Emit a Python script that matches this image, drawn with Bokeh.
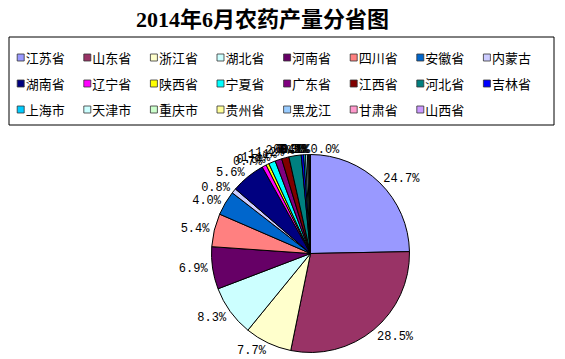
import math
from bokeh.plotting import figure
from bokeh.models import Range1d, ColumnDataSource
from bokeh.core.properties import value
from bokeh.embed import file_html
from bokeh.resources import INLINE

title_text = "2014年6月农药产量分省图"
provinces = ["江苏省", "山东省", "浙江省", "湖北省", "河南省", "四川省", "安徽省", "内蒙古",
             "湖南省", "辽宁省", "陕西省", "宁夏省", "广东省", "江西省", "河北省", "吉林省",
             "上海市", "天津市", "重庆市", "贵州省", "黑龙江", "甘肃省", "山西省"]
shares = [24.7, 28.5, 7.7, 8.3, 6.9, 5.4, 4.0, 0.8,
          5.6, 0.7, 0.5, 1.1, 1.1, 1.2, 2.0, 0.4,
          0.3, 0.3, 0.2, 0.1, 0.1, 0.1, 0.0]
colors = ["#9999FF", "#993366", "#FFFFCC", "#CCFFFF", "#660066", "#FF8080", "#0066CC", "#CCCCFF",
          "#000080", "#FF00FF", "#FFFF00", "#00FFFF", "#800080", "#800000", "#008080", "#0000FF",
          "#00CCFF", "#CCFFFF", "#CCFFCC", "#FFFF99", "#99CCFF", "#FF99CC", "#CC99FF"]

W, H = 565, 359
p = figure(width=W, height=H, output_backend="svg", toolbar_location=None,
           x_range=Range1d(0, W), y_range=Range1d(0, H), min_border=0)
p.axis.visible = False
p.grid.visible = False
p.outline_line_color = None

def px(x):
    return x

def py(y):
    return H - y

# Title
p.text(x=[px(262)], y=[py(19)], text=[title_text], text_align="center", text_baseline="middle",
       text_font=value("Liberation Serif, Noto Sans CJK SC"), text_font_size="22px",
       text_font_style="bold", text_color="black")

# Legend box
p.quad(left=[px(8.5)], right=[px(553.5)], top=[py(36.5)], bottom=[py(124.5)], fill_color=None,
       line_color="black", line_width=1)

lx, ly, lt = [], [], []
for i, name in enumerate(provinces):
    col, row = i % 8, i // 8
    sx = 16.7 + 66.6 * col
    sy = 57 + 26 * row
    lx.append(px(sx + 3.5))
    ly.append(py(sy))
    lt.append(px(sx + 8.5))
leg = ColumnDataSource(dict(x=lx, y=ly, tx=lt, c=colors, t=provinces))
p.rect(x="x", y="y", width=7, height=7, fill_color="c", line_color="#333333", line_width=0.8,
       source=leg)
p.text(x="tx", y="y", text="t", text_align="left", text_baseline="middle",
       text_font=value("Noto Sans CJK SC"), text_font_size="13px", text_color="black", source=leg)

# Pie
cx, cy, r = px(310), py(253), 99
total = sum(shares)
cum = 0.0
starts, ends, wcols = [], [], []
lab_x, lab_y, lab_t, lab_al = [], [], [], []
for v, c in zip(shares, colors):
    a0 = cum / total * 2 * math.pi
    cum += v
    a1 = cum / total * 2 * math.pi
    if v > 0:
        starts.append(math.pi / 2 - a1)
        ends.append(math.pi / 2 - a0)
        wcols.append(c)
    mid = (a0 + a1) / 2
    dx, dy = math.sin(mid), math.cos(mid)
    rr = r + 5
    lab_x.append(cx + rr * dx)
    lab_y.append(cy + rr * dy - (4 if dy < -0.5 else 0))
    lab_t.append(f"{v:.1f}%")
    lab_al.append("left" if dx >= -1e-6 else "right")

ws = ColumnDataSource(dict(s=starts, e=ends, c=wcols))
p.wedge(x=cx, y=cy, radius=r, start_angle="s", end_angle="e", fill_color="c",
        line_color="black", line_width=1, source=ws)

ls = ColumnDataSource(dict(x=lab_x, y=lab_y, t=lab_t, a=lab_al))
p.text(x="x", y="y", text="t", text_align="a", text_baseline="middle",
       text_font=value("Liberation Mono"), text_font_size="12px", text_color="black", source=ls)

open("out.html", "w").write(file_html(p, INLINE))
